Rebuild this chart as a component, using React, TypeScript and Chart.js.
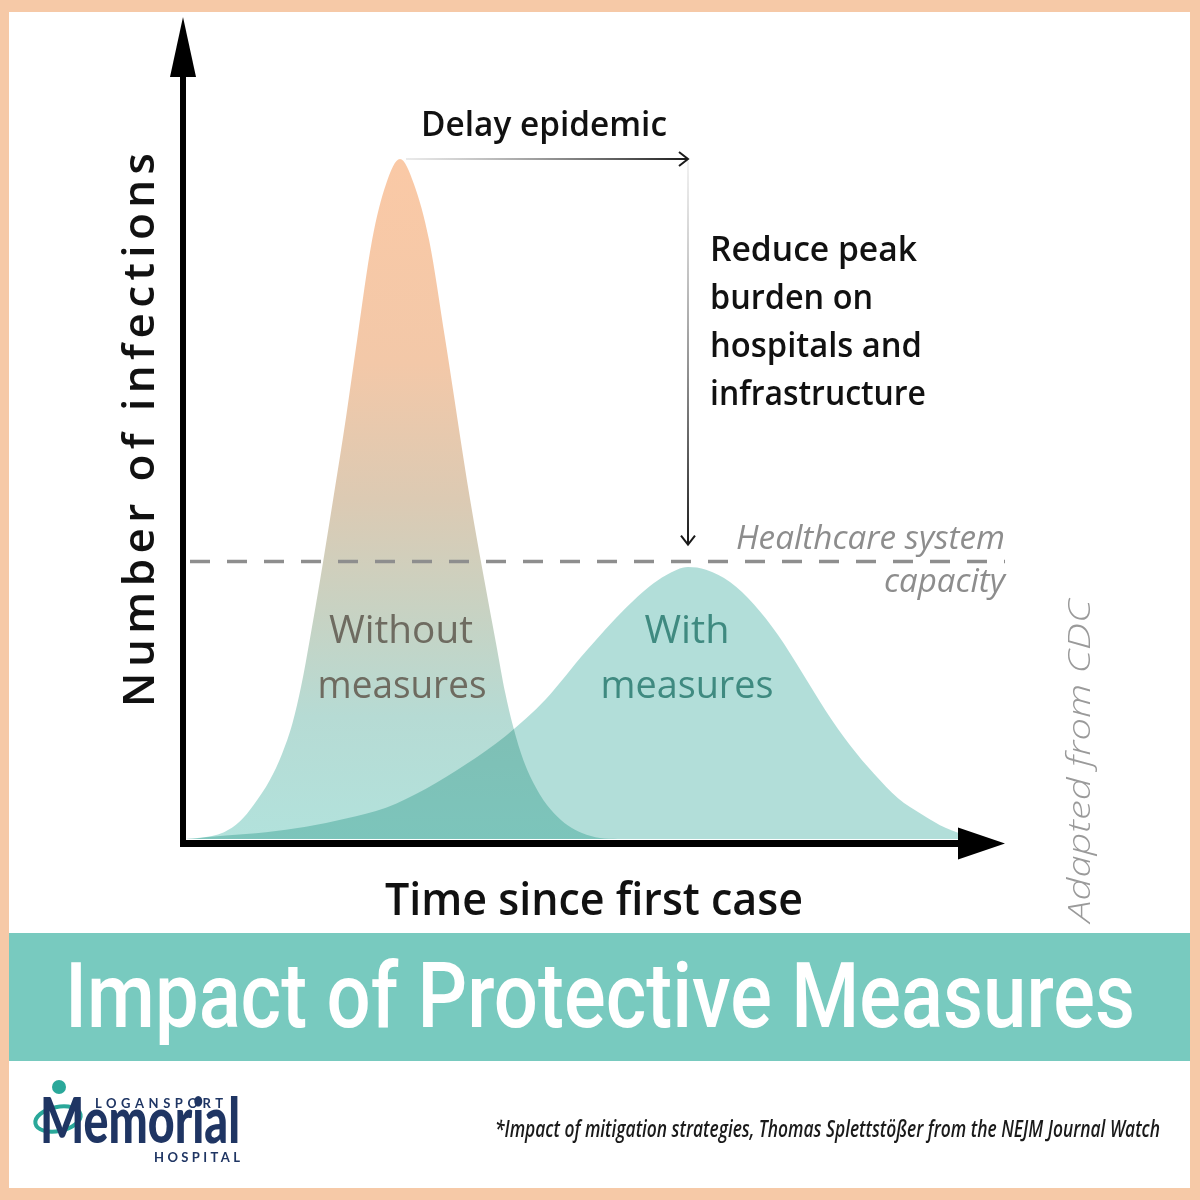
import React, { useEffect, useRef } from "react";
import { Chart, registerables } from "chart.js";

Chart.register(...registerables);

// ---------- data ----------
const orangeTime = [0, 1.75, 4.75, 6.75, 8.45, 10.5, 12, 13.3, 14.4, 15.5, 16.75, 18.4, 20, 21.4, 23.25, 25, 26.75, 28.5, 30.4, 32.4, 35.5, 37.3, 38.75, 39.9, 40.9, 42.2, 44.25, 46, 47.75, 49.5, 51.75, 54];
const orangeInfections = [0, 0.15, 1.0, 2.6, 5, 8.7, 12.5, 17, 22.5, 29.5, 38, 50, 62, 73.5, 88, 96.3, 100, 96.3, 88, 73.5, 50, 38, 28.8, 21.5, 16.5, 11.5, 6.5, 3.8, 2.0, 0.9, 0.15, 0];

const tealTime = [0, 5, 10, 15, 20, 25, 30, 35, 40, 45, 50, 55, 58, 60, 62.75, 65, 68, 71, 74, 77, 80, 83, 86, 89, 92, 95, 98, 100];
const tealInfections = [0, 0.5, 1.0, 1.8, 3.0, 4.6, 7.4, 11.0, 15.2, 20.6, 27.6, 34, 37.2, 38.8, 40, 39.6, 37.8, 34.5, 30, 24.5, 18.8, 13.8, 9.6, 6.0, 3.6, 1.6, 0.4, 0];

const capacityLevel = 40.8;

const xRange = [0, 100];
const yRange = [0, 120];

// ---------- text ----------
const delayLabel = "Delay epidemic";
const reduceLines = ["Reduce peak", "burden on", "hospitals and", "infrastructure"];
const capacityLines = ["Healthcare system", "capacity"];
const withoutLines = ["Without", "measures"];
const withLines = ["With", "measures"];
const yTitle = "Number of infections";
const xTitle = "Time since first case";
const sourceNote = "Adapted from CDC";
const bannerTitle = "Impact of Protective Measures";
const footnote = "*Impact of mitigation strategies, Thomas Splettstößer from the NEJM Journal Watch";
const logoTop = "LOGANSPORT";
const logoMain = "Memorial";
const logoBottom = "HOSPITAL";

// ---------- colours ----------
const PEACH = "#f6c9a7";
const BANNER = "#78cabf";
const TEAL_FILL = "rgb(178,222,217)";
const NAVY = "#1f3563";

type TextOpts = {
  font: string;
  color: string;
  width?: number;
  align?: "left" | "center" | "right";
  mode?: "scale" | "spacing";
  rotate?: number;
};

function drawText(ctx: CanvasRenderingContext2D, text: string, x: number, y: number, o: TextOpts) {
  const { font, color, width, align = "left", mode = "scale", rotate = 0 } = o;
  ctx.save();
  ctx.translate(x, y);
  if (rotate) ctx.rotate(rotate);
  ctx.font = font;
  ctx.fillStyle = color;
  ctx.textBaseline = "alphabetic";
  ctx.textAlign = "left";
  let w = ctx.measureText(text).width;
  let sx = 1;
  if (width) {
    if (mode === "spacing" && text.length > 1) {
      const ls = (width - w) / (text.length - 1);
      (ctx as any).letterSpacing = ls + "px";
      w = width;
    } else {
      sx = width / w;
    }
  }
  ctx.scale(sx, 1);
  const dx = align === "left" ? 0 : align === "center" ? -w / 2 : -w;
  ctx.fillText(text, dx, 0);
  ctx.restore();
}

function peakOf(times: number[], vals: number[]) {
  let i = 0;
  vals.forEach((v, k) => {
    if (v > vals[i]) i = k;
  });
  return { t: times[i], v: vals[i] };
}

const decorPlugin = {
  id: "decor",
  beforeDraw(chart: any) {
    const { ctx, width, height } = chart;
    ctx.save();
    ctx.fillStyle = PEACH;
    ctx.fillRect(0, 0, width, height);
    ctx.fillStyle = "#ffffff";
    ctx.fillRect(9, 12, 1181, 1176);
    ctx.fillStyle = BANNER;
    ctx.fillRect(9, 933, 1181, 128);
    ctx.restore();
  },
  beforeDatasetsDraw(chart: any) {
    chart.ctx.save();
    chart.ctx.globalCompositeOperation = "multiply";
  },
  afterDatasetsDraw(chart: any) {
    chart.ctx.restore();
  },
  afterDraw(chart: any) {
    const { ctx, chartArea } = chart;
    const xs = chart.scales.x;
    const ys = chart.scales.y;
    const { left, right, bottom } = chartArea;
    ctx.save();

    // capacity dashed line
    const yCap = ys.getPixelForValue(capacityLevel);
    ctx.strokeStyle = "#8e8e8e";
    ctx.lineWidth = 3.5;
    ctx.setLineDash([20, 17]);
    ctx.beginPath();
    ctx.moveTo(left + 4, yCap);
    ctx.lineTo(right + 19, yCap);
    ctx.stroke();
    ctx.setLineDash([]);

    // axes
    ctx.fillStyle = "#000";
    ctx.fillRect(left - 6, 75, 6, bottom + 8 - 75);
    ctx.beginPath();
    ctx.moveTo(left - 3, 17);
    ctx.lineTo(left - 16, 77);
    ctx.lineTo(left + 10, 77);
    ctx.closePath();
    ctx.fill();
    ctx.fillRect(left - 6, bottom + 1, right - 28 - (left - 6), 7);
    ctx.beginPath();
    ctx.moveTo(right + 19, bottom + 4.5);
    ctx.lineTo(right - 28, bottom + 4.5 - 16);
    ctx.lineTo(right - 28, bottom + 4.5 + 16);
    ctx.closePath();
    ctx.fill();

    // delay arrow
    const po = peakOf(orangeTime, orangeInfections);
    const pt = peakOf(tealTime, tealInfections);
    const xO = xs.getPixelForValue(po.t);
    const yO = ys.getPixelForValue(po.v);
    const xT = xs.getPixelForValue(pt.t);
    let g = ctx.createLinearGradient(xO + 6, 0, xT, 0);
    g.addColorStop(0, "rgba(120,120,120,0.15)");
    g.addColorStop(1, "#1a1a1a");
    ctx.strokeStyle = g;
    ctx.lineWidth = 2;
    ctx.beginPath();
    ctx.moveTo(xO + 6, yO);
    ctx.lineTo(xT, yO);
    ctx.stroke();
    ctx.strokeStyle = "#1a1a1a";
    ctx.beginPath();
    ctx.moveTo(xT - 9, yO - 7);
    ctx.lineTo(xT, yO);
    ctx.lineTo(xT - 9, yO + 7);
    ctx.stroke();

    // reduce arrow
    const yEnd = yCap - 17;
    g = ctx.createLinearGradient(0, yO + 2, 0, yEnd);
    g.addColorStop(0, "rgba(120,120,120,0.1)");
    g.addColorStop(1, "#1a1a1a");
    ctx.strokeStyle = g;
    ctx.beginPath();
    ctx.moveTo(xT, yO + 2);
    ctx.lineTo(xT, yEnd);
    ctx.stroke();
    ctx.strokeStyle = "#1a1a1a";
    ctx.beginPath();
    ctx.moveTo(xT - 7, yEnd - 9);
    ctx.lineTo(xT, yEnd);
    ctx.lineTo(xT + 7, yEnd - 9);
    ctx.stroke();

    // annotations
    const body = '600 34px "Open Sans"';
    drawText(ctx, delayLabel, 421, 136, { font: body, color: "#111", width: 246 });
    const reduceW = [207, 163, 212, 216];
    reduceLines.forEach((s, i) =>
      drawText(ctx, s, 710, 261 + i * 48, { font: body, color: "#111", width: reduceW[i] })
    );
    drawText(ctx, capacityLines[0], 1005, 549, { font: 'italic 400 32px "Open Sans"', color: "#8d8d8d", width: 269, align: "right" });
    drawText(ctx, capacityLines[1], 1005, 592, { font: 'italic 400 32px "Open Sans"', color: "#8d8d8d", width: 121, align: "right" });

    const wo = '500 38px "Open Sans"';
    drawText(ctx, withoutLines[0], 401, 643, { font: wo, color: "#6e6b60", width: 144, align: "center" });
    drawText(ctx, withoutLines[1], 402, 698, { font: wo, color: "#6e6b60", width: 169, align: "center" });
    drawText(ctx, withLines[0], 687, 643, { font: wo, color: "#3f8a80", width: 85, align: "center" });
    drawText(ctx, withLines[1], 687, 698, { font: wo, color: "#3f8a80", width: 173, align: "center" });

    drawText(ctx, yTitle, 154, 430, { font: '600 44px "Open Sans"', color: "#111", width: 554, align: "center", mode: "spacing", rotate: -Math.PI / 2 });
    drawText(ctx, xTitle, 385, 915, { font: '600 46px "Open Sans"', color: "#111", width: 418 });
    drawText(ctx, sourceNote, 1090, 761, { font: 'italic 300 32px "Open Sans"', color: "#9a9a9a", width: 323, align: "center", rotate: -Math.PI / 2 });

    drawText(ctx, bannerTitle, 65, 1027, { font: '500 91px "Roboto"', color: "#ffffff", width: 1070 });
    drawText(ctx, footnote, 495, 1137, { font: 'italic 600 24px "Open Sans"', color: "#1a1a1a", width: 665 });

    // logo
    ctx.strokeStyle = "#2aa89a";
    ctx.lineWidth = 4;
    ctx.beginPath();
    ctx.ellipse(58, 1119, 23, 12, -0.2, 0, Math.PI * 2);
    ctx.stroke();
    drawText(ctx, logoMain, 40, 1143, { font: '900 62px "Lato"', color: NAVY, width: 200 });
    ctx.fillStyle = "#2aa89a";
    ctx.beginPath();
    ctx.arc(59, 1087, 7, 0, Math.PI * 2);
    ctx.fill();
    drawText(ctx, logoTop, 95, 1108, { font: '700 13px "Lato"', color: NAVY, width: 128, mode: "spacing" });
    drawText(ctx, logoBottom, 154, 1162, { font: '700 13px "Lato"', color: NAVY, width: 86, mode: "spacing" });

    ctx.restore();
  },
};

function orangeGradient(context: any) {
  const chart = context.chart;
  const { ctx, chartArea, scales } = chart;
  if (!chartArea || !scales.y) return "#f9c8a4";
  const top = scales.y.getPixelForValue(100);
  const g = ctx.createLinearGradient(0, top, 0, chartArea.bottom);
  g.addColorStop(0, "#fac9a6");
  g.addColorStop(0.3, "#f3c8a8");
  g.addColorStop(0.5, "#dccab3");
  g.addColorStop(0.68, "#c6d3c4");
  g.addColorStop(0.82, "#b6dbd4");
  g.addColorStop(1, "#b2e2dc");
  return g;
}

export default function App() {
  const ref = useRef<HTMLCanvasElement>(null);
  useEffect(() => {
    if (!ref.current) return;
    const chart = new Chart(ref.current, {
      type: "line",
      data: {
        datasets: [
          {
            label: "Without measures",
            data: orangeTime.map((t, i) => ({ x: t, y: orangeInfections[i] })),
            fill: "origin",
            backgroundColor: orangeGradient,
            borderWidth: 0,
            borderColor: "rgba(0,0,0,0)",
            pointRadius: 0,
            cubicInterpolationMode: "monotone",
          },
          {
            label: "With measures",
            data: tealTime.map((t, i) => ({ x: t, y: tealInfections[i] })),
            fill: "origin",
            backgroundColor: TEAL_FILL,
            borderWidth: 0,
            borderColor: "rgba(0,0,0,0)",
            pointRadius: 0,
            cubicInterpolationMode: "monotone",
          },
        ],
      },
      options: {
        responsive: false,
        animation: false,
        devicePixelRatio: 1,
        events: [],
        layout: { padding: { left: 186, right: 214, top: 23, bottom: 361 } },
        plugins: { legend: { display: false }, tooltip: { enabled: false } },
        scales: {
          x: { type: "linear", min: xRange[0], max: xRange[1], display: false },
          y: { type: "linear", min: yRange[0], max: yRange[1], display: false },
        },
      },
      plugins: [decorPlugin],
    } as any);
    return () => chart.destroy();
  }, []);
  return (
    <div style={{ position: "absolute", left: 0, top: 0, width: 1200, height: 1200 }}>
      <canvas ref={ref} width={1200} height={1200} style={{ display: "block", width: 1200, height: 1200 }} />
    </div>
  );
}
